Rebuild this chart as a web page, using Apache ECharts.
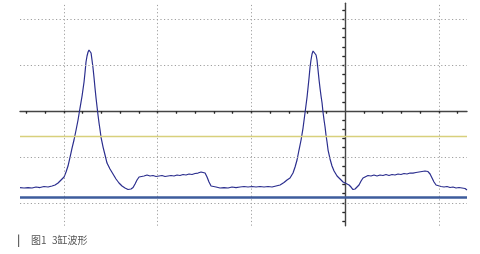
<!DOCTYPE html>
<html>
<head>
<meta charset="utf-8">
<script src="https://cdn.jsdelivr.net/npm/echarts@6/dist/echarts.min.js"></script>
<style>
html,body{margin:0;padding:0;background:#fff;}
#c{width:480px;height:254px;}
</style>
</head>
<body>
<div id="c"></div>
<script>
// Time in scope divisions (0 = centre graticule line)
const timeDiv = [
-3.467,-3.424,-3.381,-3.339,-3.296,-3.253,-3.211,-3.168,-3.125,-3.093,-3.061,-3.029,-2.997,-2.976,-2.955,-2.933,
-2.912,-2.891,-2.869,-2.848,-2.827,-2.805,-2.784,-2.773,-2.763,-2.752,-2.741,-2.731,-2.720,-2.709,-2.699,-2.688,
-2.677,-2.667,-2.656,-2.645,-2.635,-2.624,-2.613,-2.603,-2.581,-2.560,-2.539,-2.507,-2.475,-2.443,-2.411,-2.379,
-2.347,-2.315,-2.283,-2.261,-2.240,-2.219,-2.197,-2.176,-2.144,-2.112,-2.080,-2.048,-2.016,-1.984,-1.952,-1.920,
-1.888,-1.856,-1.824,-1.792,-1.760,-1.728,-1.696,-1.664,-1.632,-1.600,-1.568,-1.536,-1.515,-1.493,-1.472,-1.451,
-1.429,-1.408,-1.376,-1.333,-1.291,-1.248,-1.205,-1.163,-1.120,-1.077,-1.035,-0.992,-0.949,-0.907,-0.864,-0.821,
-0.779,-0.736,-0.693,-0.651,-0.619,-0.587,-0.555,-0.533,-0.512,-0.491,-0.469,-0.448,-0.427,-0.405,-0.395,-0.384,
-0.373,-0.363,-0.352,-0.341,-0.331,-0.320,-0.309,-0.299,-0.288,-0.277,-0.267,-0.256,-0.245,-0.235,-0.224,-0.213,
-0.203,-0.192,-0.181,-0.160,-0.139,-0.117,-0.085,-0.053,-0.021,0.011,0.043,0.064,0.085,0.107,0.128,0.149,
0.171,0.192,0.213,0.245,0.277,0.309,0.341,0.373,0.405,0.437,0.469,0.501,0.533,0.565,0.597,0.629,
0.661,0.693,0.725,0.757,0.789,0.821,0.853,0.885,0.907,0.928,0.949,0.971,0.992,1.024,1.056,1.088,
1.120,1.152,1.184,1.216,1.248,1.280,1.301
];
// Signal level in scope divisions (0 = centre graticule line)
const levelDiv = [
-1.668,-1.678,-1.668,-1.678,-1.657,-1.668,-1.646,-1.657,-1.635,-1.613,-1.569,-1.504,-1.439,-1.330,-1.199,-1.003,
-0.807,-0.632,-0.414,-0.196,0.065,0.327,0.632,0.850,1.068,1.199,1.286,1.330,1.330,1.264,1.112,0.937,
0.719,0.501,0.283,0.087,-0.087,-0.262,-0.414,-0.567,-0.785,-0.959,-1.134,-1.264,-1.373,-1.482,-1.569,-1.635,
-1.678,-1.711,-1.700,-1.668,-1.591,-1.504,-1.439,-1.406,-1.417,-1.395,-1.417,-1.406,-1.428,-1.417,-1.406,-1.428,
-1.417,-1.406,-1.417,-1.395,-1.406,-1.384,-1.395,-1.373,-1.384,-1.362,-1.352,-1.330,-1.319,-1.352,-1.439,-1.548,
-1.635,-1.668,-1.657,-1.678,-1.668,-1.678,-1.657,-1.668,-1.657,-1.646,-1.657,-1.646,-1.657,-1.646,-1.657,-1.646,
-1.657,-1.635,-1.613,-1.559,-1.504,-1.460,-1.352,-1.221,-1.068,-0.850,-0.632,-0.371,-0.044,0.305,0.501,0.719,
0.959,1.112,1.243,1.308,1.319,1.308,1.221,1.112,0.894,0.676,0.501,0.327,0.174,-0.022,-0.196,-0.349,
-0.523,-0.676,-0.850,-1.046,-1.199,-1.308,-1.417,-1.482,-1.548,-1.580,-1.613,-1.657,-1.711,-1.700,-1.678,-1.613,
-1.526,-1.460,-1.417,-1.406,-1.417,-1.395,-1.417,-1.395,-1.406,-1.384,-1.406,-1.384,-1.395,-1.373,-1.384,-1.362,
-1.373,-1.352,-1.352,-1.341,-1.330,-1.319,-1.308,-1.319,-1.373,-1.460,-1.548,-1.613,-1.646,-1.646,-1.657,-1.646,
-1.668,-1.657,-1.678,-1.668,-1.678,-1.689,-1.722
];
// Cursor / reference levels (divisions)
const yellowLevel = -0.545;
const blueLevel = -1.89;
// Graticule
const gridLinesX = [-3, -2, -1, 1];
const gridLinesY = [-2, -1, 1, 2];
const xTicks = [-3.4,-3.2,-3.0,-2.8,-2.6,-2.4,-2.2,-2.0,-1.8,-1.6,-1.4,-1.2,-1.0,-0.8,-0.6,-0.4,-0.2,0.2,0.4,0.6,0.8,1.0,1.2];
const yTicks = [-2.4,-2.2,-2.0,-1.8,-1.6,-1.4,-1.2,-1.0,-0.8,-0.6,-0.4,-0.2,0.2,0.4,0.6,0.8,1.0,1.2,1.4,1.6,1.8,2.0,2.2];
const xRange = [-3.467, 1.301];
const yRange = [-2.5, 2.35];
const captionBar = '|';
const captionNum = '图1';
const captionText = '3缸波形';

const chart = echarts.init(document.getElementById('c'), null, {renderer: 'canvas'});
const wave = timeDiv.map((t, i) => [t, levelDiv[i]]);
const axisCol = '#444';
const tickStyle = {color: '#2a2a2a', width: 1.2};
function xAx(inside, showLine) {
  return {type: 'value', min: xRange[0], max: xRange[1],
    axisLine: {show: showLine, onZero: true, lineStyle: {color: axisCol, width: 1.4}},
    axisTick: {show: true, inside: inside, length: 2.5, customValues: xTicks, lineStyle: tickStyle},
    axisLabel: {show: false}, splitLine: {show: false}};
}
function yAx(inside, showLine) {
  return {type: 'value', min: yRange[0], max: yRange[1],
    axisLine: {show: showLine, onZero: true, lineStyle: {color: axisCol, width: 1.4}},
    axisTick: {show: true, inside: inside, length: 2.5, customValues: yTicks, lineStyle: tickStyle},
    axisLabel: {show: false}, splitLine: {show: false}};
}
const dotted = {color: '#a0a0a0', width: 1, type: [1.2, 2.4]};
const option = {
  animation: false,
  backgroundColor: '#ffffff',
  grid: {left: 20, right: 13, top: 3.2, bottom: 28.3, containLabel: false},
  xAxis: [xAx(false, true), xAx(true, false)],
  yAxis: [yAx(false, true), yAx(true, false)],
  series: [
    {
      type: 'line', data: [], silent: true, z: 1,
      markLine: {
        silent: true, symbol: 'none', label: {show: false}, animation: false,
        data: gridLinesX.map(v => ({xAxis: v, lineStyle: dotted}))
          .concat(gridLinesY.map(v => ({yAxis: v, lineStyle: dotted})))
          .concat([
            {yAxis: yellowLevel, lineStyle: {color: '#d8d07c', width: 1.3, type: 'solid'}},
            {yAxis: blueLevel, lineStyle: {color: '#3d5c9c', width: 2.6, type: 'solid'}}
          ])
      }
    },
    {
      type: 'line', data: wave, showSymbol: false, silent: true, z: 3,
      lineStyle: {color: '#2b2e8e', width: 1.2}
    }
  ],
  graphic: [
    {type: 'text', left: 17, top: 234, style: {text: captionBar, fill: '#555', font: 'bold 11px "Noto Sans CJK SC"'}},
    {type: 'text', left: 31, top: 235, style: {text: captionNum, fill: '#555', font: '10px "Noto Sans CJK SC"'}},
    {type: 'text', left: 52, top: 235, style: {text: captionText, fill: '#555', font: '10px "Noto Sans CJK SC"'}}
  ]
};
chart.setOption(option);
</script>
</body>
</html>
